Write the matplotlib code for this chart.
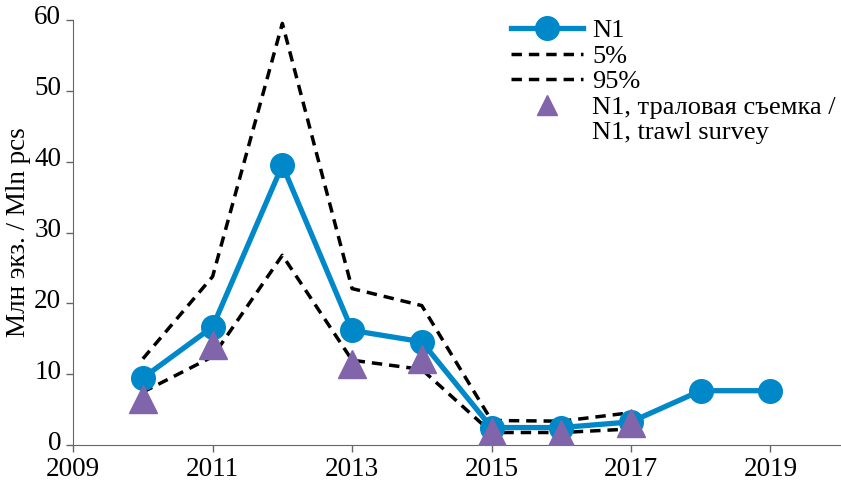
import matplotlib.pyplot as plt
import matplotlib.transforms as mtransforms
from matplotlib.lines import Line2D
import numpy as np

plt.rcParams['font.family'] = ['Liberation Serif', 'DejaVu Serif']

years = [2010, 2011, 2012, 2013, 2014, 2015, 2016, 2017, 2018, 2019]
n1 = [9.5, 16.7, 39.5, 16.2, 14.6, 2.5, 2.5, 3.3, 7.7, 7.7]

ci_years = [2010, 2011, 2012, 2013, 2014, 2015, 2016, 2017]
p5 = [7.5, 12.5, 26.8, 12.0, 10.7, 1.8, 1.8, 2.3]
p95 = [12.2, 23.8, 59.5, 22.1, 19.7, 3.5, 3.4, 4.6]

survey_years = [2010, 2011, 2013, 2014, 2015, 2016, 2017]
survey = [6.5, 14.2, 11.4, 12.1, 1.9, 1.6, 3.1]

blue = '#0088c8'
purple = '#8065aa'

fig = plt.figure(figsize=(8.41, 4.84), dpi=100)
ax = fig.add_axes([0.087, 0.08, 0.912, 0.879])

ax.plot(years, n1, '-o', color=blue, lw=3.8, markersize=17, label='N1', zorder=3)
ax.plot(ci_years, p5, '--', color='black', lw=2.5, dashes=(3, 2), label='5%', zorder=2)
ax.plot(ci_years, p95, '--', color='black', lw=2.5, dashes=(3, 2), label='95%', zorder=2)
ax.plot(survey_years, survey, '^', color=purple, markersize=20, ls='none',
        label='N1, траловая съемка /', zorder=4)

ax.set_xlim(2009, 2020)
ax.set_ylim(0, 60)
ax.set_xticks([2009, 2011, 2013, 2015, 2017, 2019])
ax.set_yticks(np.arange(0, 61, 10))
for s in ['top', 'right']:
    ax.spines[s].set_visible(False)
for s in ['left', 'bottom']:
    ax.spines[s].set_color('#666666')
ax.tick_params(colors='#666666', labelcolor='black', labelsize=19.5, length=5, width=1)
ax.tick_params(axis='x', pad=3.5)

# подписи оси Y чуть выше, чтобы "0" не наезжал на "2009"
shift = mtransforms.ScaledTranslation(0, 5 / 100, fig.dpi_scale_trans)
for t in ax.yaxis.get_major_ticks():
    t.label1.set_transform(t.label1.get_transform() + shift)
ax.set_ylabel('Млн экз. / Mln pcs', fontsize=19.5, labelpad=2)

# вторая строка подписи съемки без маркера
handles, labels = ax.get_legend_handles_labels()
handles.append(Line2D([], [], ls='none'))
labels.append('N1, trawl survey')
leg = fig.legend(handles, labels, loc='upper left', bbox_to_anchor=(511 / 841, 1 - 19 / 484),
                 frameon=False, fontsize=19, handlelength=2.72, handletextpad=0.35,
                 labelspacing=0.075, borderpad=0, borderaxespad=0)
leg.legend_handles[3].set_markersize(14)

fig.savefig('out.png', dpi=100)
